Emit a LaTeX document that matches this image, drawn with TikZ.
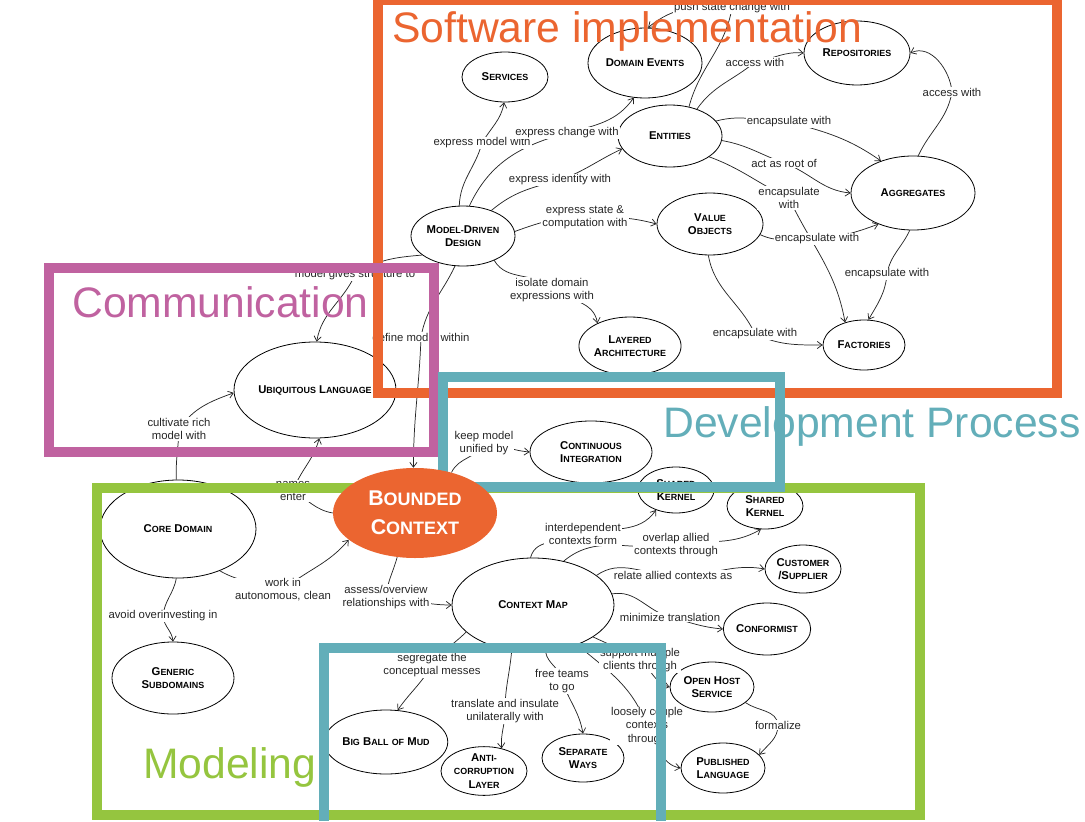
\documentclass[tikz,border=0pt]{standalone}
\usepackage{fontspec}
\setmainfont{Liberation Sans}
\usetikzlibrary{arrows.meta,shapes.geometric}
\definecolor{implOrange}{HTML}{EB6530}
\definecolor{commMagenta}{HTML}{C062A0}
\definecolor{devTeal}{HTML}{63AEB9}
\definecolor{modelGreen}{HTML}{95C53F}
\definecolor{inkDark}{HTML}{262626}
\pgfdeclarelayer{background}
\pgfdeclarelayer{foreground}
\pgfsetlayers{background,main,foreground}
% fake small caps: big initial, smaller rest
\newcommand{\smcap}[2]{{\fontsize{8.5}{10}\selectfont #1}{\fontsize{6.7}{10}\selectfont #2}}
\newcommand{\bcsc}[2]{{\fontsize{16}{22}\selectfont #1}{\fontsize{13.5}{22}\selectfont #2}}
\tikzset{
  >={Straight Barb[length=3.6pt,width=5.4pt]},
  oval/.style 2 args={minimum width=#1*0.75pt, minimum height=#2*0.75pt},
  concept/.style={ellipse, draw=black, line width=0.6pt, fill=white, inner sep=0pt,
                  align=center, font=\bfseries\fontsize{8.5}{10}\selectfont, text=black},
  keyconcept/.style={ellipse, fill=implOrange, draw=none, inner sep=0pt,
                     align=center, font=\bfseries\fontsize{16}{22}\selectfont, text=white},
  linklabel/.style={fill=white, inner sep=0.8pt, align=center,
                    font=\fontsize{8.5}{9.8}\selectfont, text=inkDark},
  link/.style={draw=inkDark, line width=0.55pt},
  flow/.style={link, ->},
  frame/.style={line width=7.5pt},
  areatitle/.style={anchor=base west, inner sep=0pt, font=\fontsize{32}{36}\selectfont}
}

\begin{document}
\begin{tikzpicture}[x=0.75pt,y=-0.75pt]
\useasboundingbox (0,0) rectangle (1085,821);

% ------------------------------------------------------------
% SOFTWARE IMPLEMENTATION CONCEPTS
% ------------------------------------------------------------
\node[concept, oval={86}{50}]   (services)   at (505,77)  {\smcap{S}{ERVICES}};
\node[concept, oval={114}{70}]  (domevents)  at (645,63)  {\smcap{D}{OMAIN} \smcap{E}{VENTS}};
\node[concept, oval={106}{64}]  (repos)      at (857,53)  {\smcap{R}{EPOSITORIES}};
\node[concept, oval={104}{62}]  (entities)   at (670,136) {\smcap{E}{NTITIES}};
\node[concept, oval={124}{74}]  (aggregates) at (913,193) {\smcap{A}{GGREGATES}};
\node[concept, oval={104}{60}]  (mdd)        at (463,236) {\smcap{M}{ODEL-}\smcap{D}{RIVEN}\\\smcap{D}{ESIGN}};
\node[concept, oval={106}{62}]  (valueobj)   at (710,224) {\smcap{V}{ALUE}\\\smcap{O}{BJECTS}};
\node[concept, oval={100}{58}]  (layered)    at (630,346) {\smcap{L}{AYERED}\\\smcap{A}{RCHITECTURE}};
\node[concept, oval={82}{50}]   (factories)  at (864,345) {\smcap{F}{ACTORIES}};

% ------------------------------------------------------------
% COMMUNICATION / DEVELOPMENT PROCESS
% ------------------------------------------------------------
\node[concept, oval={162}{96}]  (ubiq)       at (315,390) {\smcap{U}{BIQUITOUS} \smcap{L}{ANGUAGE}};
\node[concept, oval={122}{62}]  (contint)    at (591,452) {\smcap{C}{ONTINUOUS}\\\smcap{I}{NTEGRATION}};

% ------------------------------------------------------------
% MODELING
% ------------------------------------------------------------
\node[concept, oval={76}{46}]   (kernelA)    at (676,490) {\smcap{S}{HARED}\\\smcap{K}{ERNEL}};
\node[concept, oval={76}{46}]   (kernelB)    at (765,506) {\smcap{S}{HARED}\\\smcap{K}{ERNEL}};
\node[concept, oval={76}{48}]   (custsup)    at (803,569) {\smcap{C}{USTOMER}\\\smcap{/S}{UPPLIER}};
\node[concept, oval={86}{52}]   (conformist) at (767,629) {\smcap{C}{ONFORMIST}};
\node[concept, oval={84}{50}]   (openhost)   at (712,687) {\smcap{O}{PEN} \smcap{H}{OST}\\\smcap{S}{ERVICE}};
\node[concept, oval={84}{50}]   (published)  at (723,768) {\smcap{P}{UBLISHED}\\\smcap{L}{ANGUAGE}};
\node[concept, oval={82}{48}]   (separate)   at (583,758) {\smcap{S}{EPARATE}\\\smcap{W}{AYS}};
\node[concept, oval={86}{48}]   (anticorr)   at (484,771) {\smcap{A}{NTI-}\\\smcap{}{CORRUPTION}\\\smcap{L}{AYER}};
\node[concept, oval={114}{64}]  (bigball)    at (386,742) {\smcap{B}{IG} \smcap{B}{ALL} \smcap{}{OF} \smcap{M}{UD}};
\node[concept, oval={162}{94}]  (ctxmap)     at (533,605) {\smcap{C}{ONTEXT} \smcap{M}{AP}};
\node[concept, oval={156}{98}]  (coredom)    at (178,529) {\smcap{C}{ORE} \smcap{D}{OMAIN}};
\node[concept, oval={122}{72}]  (generic)    at (173,678) {\smcap{G}{ENERIC}\\\smcap{S}{UBDOMAINS}};

% bounded context sits above the frames
\begin{pgfonlayer}{foreground}
\node[keyconcept, oval={164}{90}] (bounded) at (415,513) {\bcsc{B}{OUNDED}\\\bcsc{C}{ONTEXT}};
\end{pgfonlayer}

% ------------------------------------------------------------
% RELATION LABELS
% ------------------------------------------------------------
\node[linklabel] (lExpModel)  at (482,143) {express model with};
\node[linklabel] (lExpChange) at (567,133) {express change with};
\node[linklabel] (lExpIdent)  at (560,180) {express identity with};
\node[linklabel] (lExpState)  at (585,217) {express state \&\\computation with};
\node[linklabel] (lIsolate)   at (552,290) {isolate domain\\expressions with};
\node[linklabel] (lStructure) at (355,275) {model gives structure to};
\node[linklabel] (lDefine)    at (421,337) {define model within};
\node[linklabel] (lPushState) at (732,8)   {push state change with};
\node[linklabel] (lAccessEnt) at (755,62)  {access with};
\node[linklabel] (lEncEntAgg) at (789,122) {encapsulate with};
\node[linklabel] (lRoot)      at (784,163) {act as root of};
\node[linklabel] (lEncEntFac) at (789,198) {encapsulate\\with};
\node[linklabel] (lAccessAgg) at (952,92)  {access with};
\node[linklabel] (lEncVoAgg)  at (817,239) {encapsulate with};
\node[linklabel] (lEncVoFac)  at (755,334) {encapsulate with};
\node[linklabel] (lEncAggFac) at (887,274) {encapsulate with};
\node[linklabel] (lCultivate) at (179,429) {cultivate rich\\model with};
\node[linklabel] (lNames)     at (293,491) {names\\enter};
\node[linklabel] (lWork)      at (283,590) {work in\\autonomous, clean};
\node[linklabel] (lAvoid)     at (163,616) {avoid overinvesting in};
\node[linklabel] (lAssess)    at (386,597) {assess/overview\\relationships with};
\node[linklabel] (lKeep)      at (484,443) {keep model\\unified by};
\node[linklabel] (lInterdep)  at (583,534) {interdependent\\contexts form};
\node[linklabel] (lOverlap)   at (676,545) {overlap allied\\contexts through};
\node[linklabel] (lRelate)    at (673,575) {relate allied contexts as};
\node[linklabel] (lMinimize)  at (670,617) {minimize translation};
\node[linklabel] (lSupport)   at (640,660) {support multiple\\clients through};
\node[linklabel] (lLoose)     at (647,726) {loosely couple\\contexts\\through};
\node[linklabel] (lFormalize) at (778,725) {formalize};
\node[linklabel] (lSegregate) at (432,665) {segregate the\\conceptual messes};
\node[linklabel] (lTranslate) at (505,711) {translate and insulate\\unilaterally with};
\node[linklabel] (lFreeTeams) at (562,681) {free teams\\to go};

% ------------------------------------------------------------
% RELATIONS (behind labels and concepts)
% ------------------------------------------------------------
\begin{pgfonlayer}{background}
\draw[flow] (mdd.97) to[out=88,in=-105] (lExpModel.center) to[out=60,in=-100] (services.-92);
\draw[flow] (mdd.78) to[out=65,in=-165] (lExpChange.center) to[out=15,in=-125] (domevents.-108);
\draw[flow] (mdd.42) to[out=40,in=-165] (lExpIdent.center) to[out=20,in=-155] (entities.-165);
\draw[flow] (mdd.5) to[out=20,in=180] (lExpState.center) to[out=0,in=165] (valueobj.west);
\draw[flow] (mdd.-38) to[out=-60,in=130] (lIsolate.center) to[out=-30,in=100] (layered.145);
\draw[flow] (mdd.205) to[out=185,in=35] (lStructure.center) to[out=-115,in=80] (ubiq.88);
\draw[flow] (mdd.-105) to[out=-115,in=80] (lDefine.center) to[out=-92,in=90] (bounded.92);

\draw[flow] (entities.57) to[out=75,in=-100] (lPushState.center) to[out=175,in=40] (domevents.85);
\draw[flow] (entities.45) to[out=55,in=-140] (lAccessEnt.center) to[out=10,in=175] (repos.west);
\draw[flow] (entities.18) to[out=15,in=180] (lEncEntAgg.center) to[out=-15,in=145] (aggregates.135);
\draw[flow] (entities.-5) to[out=-10,in=160] (lRoot.center) to[out=-20,in=175] (aggregates.west);
\draw[flow] (entities.-28) to[out=-20,in=155] (lEncEntFac.center) to[out=-65,in=100] (factories.130);
\draw[flow] (aggregates.82) to[out=65,in=-100] (lAccessAgg.center) to[out=95,in=25] (repos.east);
\draw[flow] (valueobj.-12) to[out=-25,in=175] (lEncVoAgg.center) to[out=5,in=-160] (aggregates.-138);
\draw[flow] (valueobj.-93) to[out=-80,in=115] (lEncVoFac.center) to[out=-25,in=180] (factories.west);
\draw[flow] (aggregates.-95) to[out=-115,in=80] (lEncAggFac.center) to[out=-95,in=60] (factories.80);

\draw[flow] (coredom.92) to[out=92,in=-92] (lCultivate.center) to[out=55,in=-160] (ubiq.182);
\draw[flow] (bounded.west) to[out=170,in=-30] (lNames.center) to[out=70,in=-105] (ubiq.-85);
\draw[flow] (coredom.-45) to[out=-30,in=160] (lWork.center) to[out=40,in=-130] (bounded.-158);
\draw[flow] (coredom.-92) to[out=-100,in=85] (lAvoid.center) to[out=-85,in=95] (generic.north);
\draw[flow] (bounded.-112) to[out=-105,in=85] (lAssess.center) to[out=-5,in=180] (ctxmap.west);
\draw[flow] (bounded.48) to[out=65,in=-115] (lKeep.center) to[out=-5,in=175] (contint.west);

\draw[flow] (ctxmap.93) to[out=75,in=-150] (lInterdep.center) to[out=15,in=-125] (kernelA.-135);
\draw[flow] (ctxmap.55) to[out=40,in=-170] (lOverlap.center) to[out=10,in=-150] (kernelB.-100);
\draw[flow] (ctxmap.25) to[out=35,in=180] (lRelate.center) to[out=-5,in=170] (custsup.west);
\draw[flow] (ctxmap.8) to[out=10,in=165] (lMinimize.center) to[out=-15,in=175] (conformist.west);
\draw[flow] (ctxmap.-28) to[out=-25,in=150] (lSupport.center) to[out=-40,in=165] (openhost.west);
\draw[flow] (ctxmap.-42) to[out=-40,in=110] (lLoose.center) to[out=-55,in=170] (published.west);
\draw[flow] (openhost.-25) to[out=-35,in=95] (lFormalize.center) to[out=-90,in=50] (published.20);
\draw[flow] (ctxmap.-158) to[out=-135,in=55] (lSegregate.center) to[out=-120,in=55] (bigball.70);
\draw[flow] (ctxmap.-115) to[out=-95,in=90] (lTranslate.center) to[out=-90,in=95] (anticorr.52);
\draw[flow] (ctxmap.-75) to[out=-80,in=95] (lFreeTeams.center) to[out=-70,in=100] (separate.north);
\end{pgfonlayer}

% ------------------------------------------------------------
% AREA FRAMES
% ------------------------------------------------------------
\draw[frame, draw=implOrange]  (378,0) rectangle (1057,393);
\draw[frame, draw=commMagenta] (49,268) rectangle (434,452);
\draw[frame, draw=modelGreen]  (97,488) rectangle (920,815);
\draw[frame, draw=devTeal]     (443,377) rectangle (780,487);
\draw[frame, draw=devTeal]     (324,821) -- (324,648) -- (661,648) -- (661,821);

\node[areatitle, text=implOrange]  (tImpl)  at (392,42)  {Software implementation};
\node[areatitle, text=commMagenta] (tComm)  at (72,317)  {Communication};
\node[areatitle, text=devTeal]     (tDev)   at (663,437) {Development Process};
\node[areatitle, text=modelGreen]  (tModel) at (143,778) {Modeling};

\end{tikzpicture}
\end{document}
